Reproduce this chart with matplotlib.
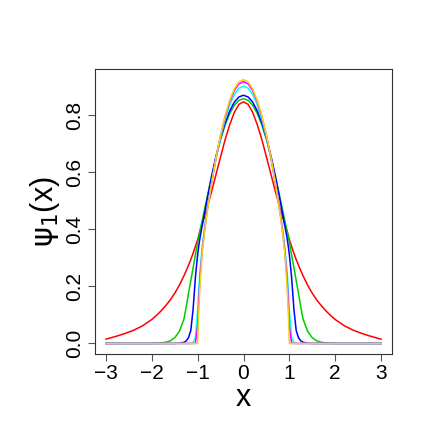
import numpy as np
import matplotlib
matplotlib.use("Agg")
import matplotlib.pyplot as plt

plt.rcParams['font.family'] = ['Liberation Sans', 'DejaVu Sans']
plt.rcParams['mathtext.fontset'] = 'dejavusans'

# half-axis sample positions (curves are symmetric about x = 0)
x_half = [0.0, 0.1, 0.2, 0.3, 0.4, 0.5, 0.6, 0.7, 0.8, 0.85, 0.9, 0.95, 0.975, 1.0,
          1.05, 1.1, 1.15, 1.2, 1.25, 1.3, 1.4, 1.5, 1.6, 1.7, 1.8, 1.9, 2.0,
          2.2, 2.4, 2.6, 2.8, 3.0]

psi_red = [0.847, 0.838, 0.810, 0.767, 0.715, 0.654, 0.592, 0.530, 0.472, 0.445, 0.420,
           0.394, 0.380, 0.364, 0.340, 0.316, 0.294, 0.274, 0.255, 0.237, 0.204, 0.176,
           0.152, 0.132, 0.114, 0.098, 0.084, 0.062, 0.046, 0.034, 0.024, 0.015]
psi_green = [0.858, 0.852, 0.835, 0.806, 0.766, 0.715, 0.652, 0.582, 0.508, 0.470, 0.432,
             0.394, 0.375, 0.356, 0.310, 0.265, 0.220, 0.175, 0.128, 0.085, 0.042, 0.020,
             0.009, 0.004, 0.002, 0.001, 0.0, 0.0, 0.0, 0.0, 0.0, 0.0]
psi_blue = [0.870, 0.864, 0.846, 0.815, 0.773, 0.720, 0.656, 0.583, 0.500, 0.457, 0.413,
            0.370, 0.343, 0.312, 0.230, 0.120, 0.045, 0.020, 0.009, 0.004, 0.001, 0.0,
            0.0, 0.0, 0.0, 0.0, 0.0, 0.0, 0.0, 0.0, 0.0, 0.0]
psi_cyan = [0.902, 0.895, 0.873, 0.836, 0.786, 0.722, 0.648, 0.560, 0.462, 0.405, 0.340,
            0.255, 0.195, 0.115, 0.020, 0.003, 0.0, 0.0, 0.0, 0.0, 0.0, 0.0,
            0.0, 0.0, 0.0, 0.0, 0.0, 0.0, 0.0, 0.0, 0.0, 0.0]
psi_magenta = [0.918, 0.910, 0.887, 0.848, 0.795, 0.728, 0.649, 0.558, 0.456, 0.396, 0.326,
               0.225, 0.150, 0.060, 0.0, 0.0, 0.0, 0.0, 0.0, 0.0, 0.0, 0.0,
               0.0, 0.0, 0.0, 0.0, 0.0, 0.0, 0.0, 0.0, 0.0, 0.0]
psi_yellow = [0.925, 0.917, 0.893, 0.853, 0.799, 0.731, 0.650, 0.557, 0.452, 0.390, 0.320,
              0.200, 0.120, 0.0, 0.0, 0.0, 0.0, 0.0, 0.0, 0.0, 0.0, 0.0,
              0.0, 0.0, 0.0, 0.0, 0.0, 0.0, 0.0, 0.0, 0.0, 0.0]

series = [psi_red, psi_green, psi_blue, psi_cyan, psi_magenta, psi_yellow]
colors = ['#FF0000', '#00CD00', '#0000FF', '#00FFFF', '#FF00FF', '#F2D21A']

x_ticks = [-3, -2, -1, 0, 1, 2, 3]
x_tick_labels = ['\u22123', '\u22122', '\u22121', '0', '1', '2', '3']
y_ticks = [0.0, 0.2, 0.4, 0.6, 0.8]
y_tick_labels = ['0.0', '0.2', '0.4', '0.6', '0.8']

xh = np.array(x_half)
x_full = np.concatenate([-xh[::-1], xh[1:]])

fig = plt.figure(figsize=(4.36, 4.36), dpi=100)
ax = fig.add_axes([95/436, 1-354/436, 297/436, 285/436])

for ys, c in zip(series, colors):
    yh = np.array(ys)
    y_full = np.concatenate([yh[::-1], yh[1:]])
    ax.plot(x_full, y_full, color=c, lw=1.1, solid_joinstyle='round')

ymax = 0.925
ax.set_xlim(-3.24, 3.24)
ax.set_ylim(-0.04 * ymax, ymax * 1.04)

ax.set_xticks(x_ticks)
ax.set_xticklabels(x_tick_labels)
ax.set_yticks(y_ticks)
ax.set_yticklabels(y_tick_labels, rotation=90, va='center')

ax.tick_params(axis='both', direction='out', length=5, width=0.8, labelsize=15,
               color='#555555')
ax.tick_params(axis='x', pad=2)
ax.tick_params(axis='y', pad=3)
for s in ax.spines.values():
    s.set_linewidth(0.8)
    s.set_color('#333333')

ax.set_xlabel('x', fontsize=22, labelpad=0)
ax.set_ylabel(r'$\mathrm{\psi}_1$(x)', fontsize=22, labelpad=2)

fig.savefig('out.png', dpi=100)
